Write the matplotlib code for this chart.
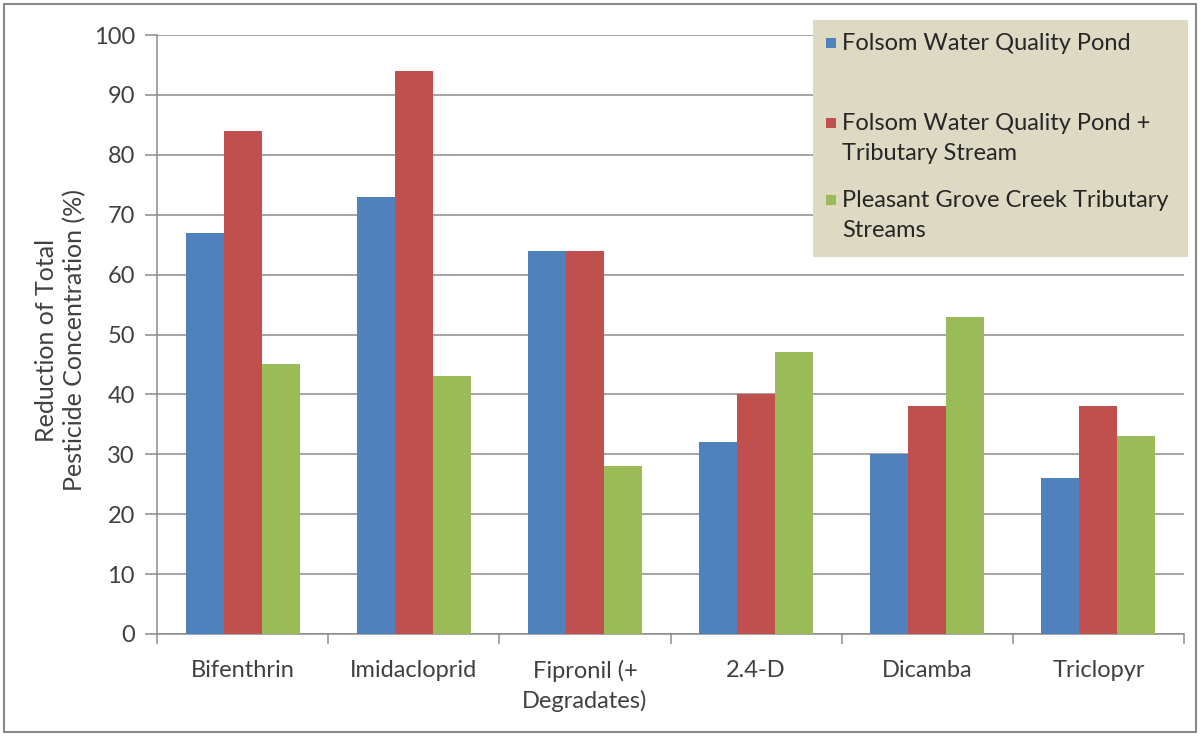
import matplotlib
matplotlib.use("Agg")
import matplotlib.pyplot as plt
from matplotlib.patches import Rectangle
import numpy as np

categories = ["Bifenthrin", "Imidacloprid", "Fipronil (+\nDegradates)", "2.4-D", "Dicamba", "Triclopyr"]
series_names = [
    "Folsom Water Quality Pond",
    "Folsom Water Quality Pond +\nTributary Stream",
    "Pleasant Grove Creek Tributary\nStreams",
]
pond = [67, 73, 64, 32, 30, 26]
pond_stream = [84, 94, 64, 40, 38, 38]
pleasant_grove = [45, 43, 28, 47, 53, 33]
y_ticks = [0, 10, 20, 30, 40, 50, 60, 70, 80, 90, 100]

colors = ["#4F81BD", "#C0504D", "#9BBB59"]
text_color = "#404040"
grid_color = "#8C8C8C"

plt.rcParams["font.family"] = ["Lato", "DejaVu Sans"]

fig = plt.figure(figsize=(12.01, 7.36), dpi=100)
ax = fig.add_axes([157 / 1201, 1 - 634 / 736, (1184 - 157) / 1201, (634 - 35) / 736])

x = np.arange(len(categories))
bar_w = 0.222
for i, (vals, c) in enumerate(zip([pond, pond_stream, pleasant_grove], colors)):
    ax.bar(x + (i - 1) * bar_w, vals, width=bar_w, color=c, zorder=3)

ax.set_xlim(-0.5, len(categories) - 0.5)
ax.set_ylim(0, 100)
ax.set_yticks(y_ticks)
ax.set_yticklabels([str(v) for v in y_ticks], fontsize=17, color=text_color)
ax.yaxis.grid(True, color=grid_color, linewidth=1.1, zorder=0)
ax.tick_params(axis="y", length=9, width=1.1, color=grid_color, pad=7)

ax.set_xticks(x)
ax.set_xticklabels(categories, fontsize=17, color=text_color, linespacing=1.4)
ax.set_xticks(np.arange(len(categories) + 1) - 0.5, minor=True)
ax.tick_params(axis="x", which="major", length=0, pad=19)
ax.tick_params(axis="x", which="minor", length=7, width=1.1, color=grid_color)
for lab in ax.get_xticklabels():
    lab.set_verticalalignment("top")

for side in ["top", "right"]:
    ax.spines[side].set_visible(False)
ax.spines["left"].set_color(grid_color)
ax.spines["bottom"].set_color(grid_color)
ax.spines["left"].set_linewidth(1.1)
ax.spines["bottom"].set_linewidth(1.1)

fig.text(61 / 1201, 1 - 340 / 736, "Reduction of Total\nPesticide Concentration (%)",
         rotation=90, ha="center", va="center", fontsize=18, color=text_color,
         linespacing=1.25)

# Legend panel
fig.patches.append(Rectangle((813 / 1201, 1 - 257 / 736), (1188 - 813) / 1201, (257 - 20) / 736,
                             transform=fig.transFigure, facecolor="#DDD9C3",
                             edgecolor="none", zorder=5))
legend_first_line = [43, 123, 200]
for name, c, y1 in zip(series_names, colors, legend_first_line):
    fig.patches.append(Rectangle((826 / 1201, 1 - (y1 + 5) / 736), 10 / 1201, 10 / 736,
                                 transform=fig.transFigure, facecolor=c,
                                 edgecolor="none", zorder=6))
    fig.text(842 / 1201, 1 - (y1 - 10) / 736, name, ha="left", va="top",
             fontsize=17, color="#262626", linespacing=1.55, zorder=7)

# Outer chart frame
fig.patches.append(Rectangle((4 / 1201, 4 / 736), 1192 / 1201, 728 / 736,
                             transform=fig.transFigure, facecolor="none",
                             edgecolor="#8A8A8A", linewidth=1.5, zorder=10))

fig.savefig("out.png", dpi=100)
